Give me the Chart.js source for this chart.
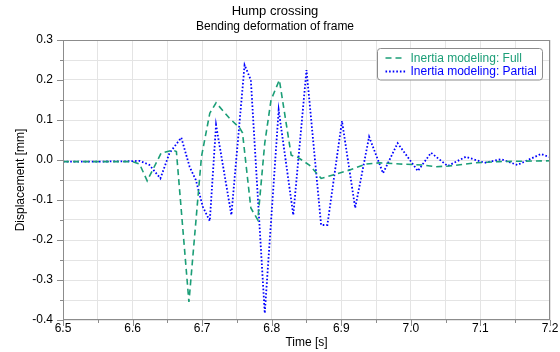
<!DOCTYPE html>
<html>
<head>
<meta charset="utf-8">
<script src="https://cdn.jsdelivr.net/npm/chart.js@4/dist/chart.umd.min.js"></script>
<style>
  html, body { margin: 0; padding: 0; background: #fff; }
  #wrap { width: 560px; height: 352px; }
</style>
</head>
<body>
<div id="wrap"><canvas id="c" width="560" height="352"></canvas></div>
<script>
// Frame bending displacement during a hump crossing, two inertia models
const timeFull = [6.50, 6.55, 6.60, 6.61, 6.621, 6.641, 6.658, 6.663, 6.681, 6.699, 6.711, 6.720,
  6.739, 6.754, 6.758, 6.770, 6.780, 6.790, 6.799, 6.811, 6.828, 6.837, 6.854, 6.871, 6.888,
  6.912, 6.936, 6.955, 6.984, 7.017, 7.036, 7.055, 7.094, 7.127, 7.160, 7.200];
const full = [-0.004, -0.004, -0.004, -0.010, -0.052, 0.017, 0.025, 0.021, -0.355, 0.008, 0.117, 0.143,
  0.105, 0.080, 0.068, -0.120, -0.150, 0.042, 0.150, 0.200, 0.012, 0.007, -0.0125, -0.046, -0.0375,
  -0.025, -0.010, -0.007, -0.010, -0.0125, -0.017, -0.015, -0.007, -0.004, -0.003, -0.002];

const timePartial = [6.50, 6.55, 6.60, 6.61, 6.624, 6.640, 6.653, 6.670, 6.682, 6.691, 6.701, 6.711,
  6.720, 6.742, 6.761, 6.770, 6.790, 6.810, 6.831, 6.850, 6.871, 6.880, 6.901, 6.920, 6.940,
  6.960, 6.981, 7.010, 7.029, 7.053, 7.079, 7.106, 7.130, 7.153, 7.187, 7.200];
const partial = [-0.004, -0.004, -0.003, -0.002, -0.012, -0.046, 0.017, 0.056, -0.017, -0.050, -0.117, -0.1525,
  0.0875, -0.1375, 0.2375, 0.200, -0.383, 0.125, -0.1375, 0.225, -0.1625, -0.1625, 0.0975, -0.120, 0.058,
  -0.033, 0.042, -0.0275, 0.018, -0.015, 0.008, -0.007, 0.002, -0.0125, 0.015, 0.007];

const seriesLabels = ['Inertia modeling: Full', 'Inertia modeling: Partial'];
const xRange = [6.5, 7.2];
const yRange = [-0.4, 0.3];
const tickStep = 0.05;

const FONT = "'Liberation Sans', Arial, sans-serif";
const GREEN = '#1b9e77';
const BLUE = '#0000ff';
const AXIS = '#8c8c8c';

const isMajor = v => Math.abs(v * 10 - Math.round(v * 10)) < 1e-6;
const fmt = v => (Math.abs(v) < 1e-9 ? 0 : v).toFixed(1);

// plot frame plus long/short tick marks on the left and bottom axes
const frameTicks = {
  id: 'frameTicks',
  afterDraw(chart) {
    const { ctx, chartArea: a, scales: { x, y } } = chart;
    ctx.save();
    ctx.strokeStyle = AXIS;
    ctx.lineWidth = 1;
    ctx.strokeRect(Math.round(a.left) + 0.5, Math.round(a.top) + 0.5,
      Math.round(a.right - a.left) - 1, Math.round(a.bottom - a.top) - 1);
    ctx.beginPath();
    x.ticks.forEach(t => {
      const px = Math.round(x.getPixelForValue(t.value)) + 0.5;
      const len = isMajor(t.value) ? 6 : 3;
      ctx.moveTo(px, Math.round(a.bottom));
      ctx.lineTo(px, Math.round(a.bottom) + len);
    });
    y.ticks.forEach(t => {
      const py = Math.round(y.getPixelForValue(t.value)) + 0.5;
      const len = isMajor(t.value) ? 6 : 3;
      ctx.moveTo(Math.round(a.left), py);
      ctx.lineTo(Math.round(a.left) - len, py);
    });
    ctx.stroke();
    ctx.restore();
  }
};

// boxed legend inside the plot, upper right, text in series colour
const boxLegend = {
  id: 'boxLegend',
  afterDraw(chart) {
    const { ctx, chartArea: a } = chart;
    const sets = chart.data.datasets;
    ctx.save();
    ctx.font = '12px ' + FONT;
    const textW = Math.max(...sets.map(d => ctx.measureText(d.label).width));
    const pad = 8, sample = 20, gap = 5, rowH = 13.5;
    const w = pad + sample + gap + textW + 6;
    const h = 31.5;
    const bx = Math.round(a.right - 8 - w) + 0.5;
    const by = Math.round(a.top + 8) + 0.5;
    ctx.beginPath();
    ctx.roundRect(bx, by, Math.round(w), h, 3);
    ctx.fillStyle = '#fff';
    ctx.fill();
    ctx.strokeStyle = '#8c8c8c';
    ctx.lineWidth = 1;
    ctx.stroke();
    sets.forEach((d, i) => {
      const cy = by + 9.5 + i * rowH;
      ctx.beginPath();
      ctx.setLineDash(d.borderDash);
      ctx.lineWidth = d.borderWidth;
      ctx.strokeStyle = d.borderColor;
      ctx.moveTo(bx + pad, cy);
      ctx.lineTo(bx + pad + sample, cy);
      ctx.stroke();
      ctx.setLineDash([]);
      ctx.fillStyle = d.borderColor;
      ctx.textBaseline = 'middle';
      ctx.textAlign = 'left';
      ctx.fillText(d.label, bx + pad + sample + gap, cy + 0.5);
    });
    ctx.restore();
  }
};

const toPoints = (ts, vs) => ts.map((t, i) => ({ x: t, y: vs[i] }));

new Chart(document.getElementById('c'), {
  type: 'line',
  data: {
    datasets: [
      {
        label: seriesLabels[0],
        data: toPoints(timeFull, full),
        borderColor: GREEN,
        borderWidth: 1.6,
        borderDash: [6, 4],
        pointRadius: 0,
        tension: 0,
        fill: false
      },
      {
        label: seriesLabels[1],
        data: toPoints(timePartial, partial),
        borderColor: BLUE,
        borderWidth: 1.8,
        borderDash: [1.6, 2],
        pointRadius: 0,
        tension: 0,
        fill: false
      }
    ]
  },
  options: {
    responsive: false,
    animation: false,
    devicePixelRatio: 1,
    layout: { padding: { left: 0, right: 10, top: 0, bottom: 0 } },
    plugins: {
      legend: { display: false },
      tooltip: { enabled: false },
      title: {
        display: true,
        text: 'Hump crossing',
        color: '#000',
        font: { family: FONT, size: 13, weight: 'normal' },
        padding: { top: 4, bottom: 0 }
      },
      subtitle: {
        display: true,
        text: 'Bending deformation of frame',
        color: '#000',
        font: { family: FONT, size: 12, weight: 'normal' },
        padding: { top: 0, bottom: 6 }
      }
    },
    scales: {
      x: {
        type: 'linear',
        min: xRange[0],
        max: xRange[1],
        afterFit(s) { s.height = 32; },
        ticks: {
          stepSize: tickStep,
          autoSkip: false,
          maxRotation: 0,
          padding: 1,
          color: '#000',
          font: { family: FONT, size: 12 },
          callback: v => isMajor(v) ? fmt(v) : ''
        },
        grid: { color: '#e4e4e4', drawTicks: false },
        border: { display: false },
        title: {
          display: true,
          text: 'Time [s]',
          color: '#000',
          font: { family: FONT, size: 12 },
          padding: { top: 0, bottom: 2 }
        }
      },
      y: {
        type: 'linear',
        min: yRange[0],
        max: yRange[1],
        afterFit(s) { s.width = 63; },
        ticks: {
          stepSize: tickStep,
          autoSkip: false,
          padding: 10,
          color: '#000',
          font: { family: FONT, size: 12 },
          callback: v => isMajor(v) ? fmt(v) : ''
        },
        grid: { color: '#e4e4e4', drawTicks: false },
        border: { display: false },
        title: {
          display: true,
          text: 'Displacement [mm]',
          color: '#000',
          font: { family: FONT, size: 12 },
          padding: { top: 13, bottom: 0 }
        }
      }
    }
  },
  plugins: [frameTicks, boxLegend]
});
</script>
</body>
</html>
